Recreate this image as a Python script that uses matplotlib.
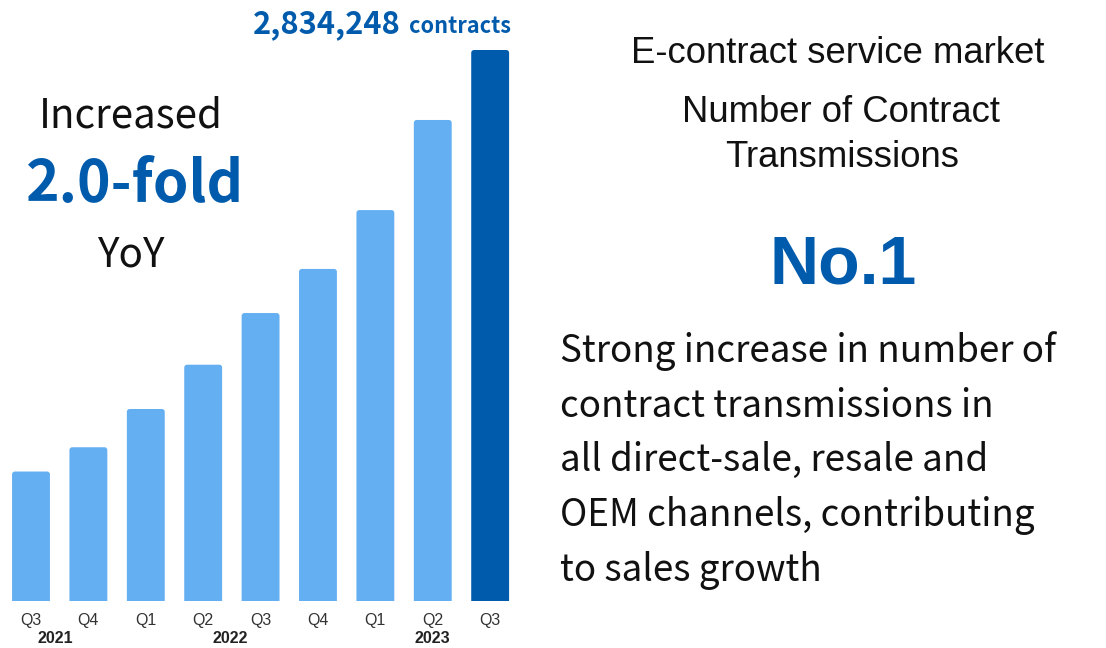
import matplotlib.pyplot as plt
from matplotlib.patches import FancyBboxPatch
import numpy as np

# Quarterly contract transmissions
quarters = ['Q3', 'Q4', 'Q1', 'Q2', 'Q3', 'Q4', 'Q1', 'Q2', 'Q3']
contracts = [664000, 789000, 986000, 1214000, 1480000, 1707000, 2010000, 2474000, 2834248]
years = ['2021', '2022', '2023']
year_pos = [0.43, 3.48, 7.0]

light_blue = '#64aef2'
dark_blue = '#005bac'
jp_font = ['Noto Sans CJK JP', 'DejaVu Sans']
arial = ['Liberation Sans', 'DejaVu Sans']

W, H = 1106, 648
fig = plt.figure(figsize=(W / 100, H / 100), dpi=100)

def px(x, y):
    return x / W, 1 - y / H

# bar area: baseline at y=600 px, last bar top at y=50 px
ax = fig.add_axes([0, (H - 600.5) / H, 520 / W, 600.5 / H])
ax.set_xlim(-0.54, 8.52)
ax.set_ylim(0, contracts[-1] * 600.5 / 550.5)
ax.axis('off')

x = np.arange(len(contracts))
colors = [light_blue] * (len(contracts) - 1) + [dark_blue]
bars = ax.bar(x, contracts, width=0.66, color=colors)

# swap the plain rectangles for ones with slightly rounded tops
x0, x1 = ax.get_xlim()
y0, y1 = ax.get_ylim()
bbox = ax.get_position()
aspect = ((y1 - y0) / (bbox.height * H)) / ((x1 - x0) / (bbox.width * W))
r = 0.05
for b in bars:
    b.set_visible(False)
    ax.add_patch(FancyBboxPatch((b.get_x(), -r * aspect), b.get_width(),
                                b.get_height() + r * aspect,
                                boxstyle=f'round,pad=0,rounding_size={r}',
                                mutation_aspect=aspect, fc=b.get_facecolor(),
                                ec='none', clip_on=True))

# quarter and year labels under the bars
for i, q in enumerate(quarters):
    ax.text(i, -0.033, q, transform=ax.get_xaxis_transform(), ha='center', va='center',
            fontsize=11.5, color='#333333', family=arial)
for yr, p in zip(years, year_pos):
    ax.text(p, -0.064, yr, transform=ax.get_xaxis_transform(), ha='center', va='center',
            fontsize=11.5, color='#222222', fontweight='bold', family=arial)

# value of the latest quarter
last = contracts[-1]
fig.text(*px(401, 33), f'{last:,}', ha='right', va='baseline', fontsize=22.2,
         fontweight='bold', color=dark_blue, family=jp_font)
fig.text(*px(409, 33), 'contracts', ha='left', va='baseline', fontsize=15.6,
         fontweight='bold', color=dark_blue, family=jp_font)

# growth callout
fig.text(*px(131, 128), 'Increased', ha='center', va='baseline', fontsize=29,
         color='#111111', family=jp_font)
fig.text(*px(135.5, 202), '2.0-fold', ha='center', va='baseline', fontsize=41,
         fontweight='bold', color=dark_blue, family=jp_font)
fig.text(*px(132, 267), 'YoY', ha='center', va='baseline', fontsize=29,
         color='#111111', family=jp_font)

# market position
fig.text(*px(838, 63), 'E-contract service market', ha='center', va='baseline',
         fontsize=26.3, color='#111111', family=arial)
fig.text(*px(841, 122), 'Number of Contract', ha='center', va='baseline',
         fontsize=26.3, color='#111111', family=arial)
fig.text(*px(842, 167), 'Transmissions', ha='center', va='baseline',
         fontsize=26.3, color='#111111', family=arial)
fig.text(*px(843, 283), 'No.1', ha='center', va='baseline', fontsize=49,
         fontweight='bold', color=dark_blue, family=arial)

paragraph = ['Strong increase in number of',
             'contract transmissions in',
             'all direct-sale, resale and',
             'OEM channels, contributing',
             'to sales growth']
for k, line in enumerate(paragraph):
    fig.text(*px(560, 362 + 54.7 * k), line, ha='left', va='baseline', fontsize=26.5,
             color='#111111', family=jp_font)

fig.savefig('out.png', dpi=100, facecolor='white')
